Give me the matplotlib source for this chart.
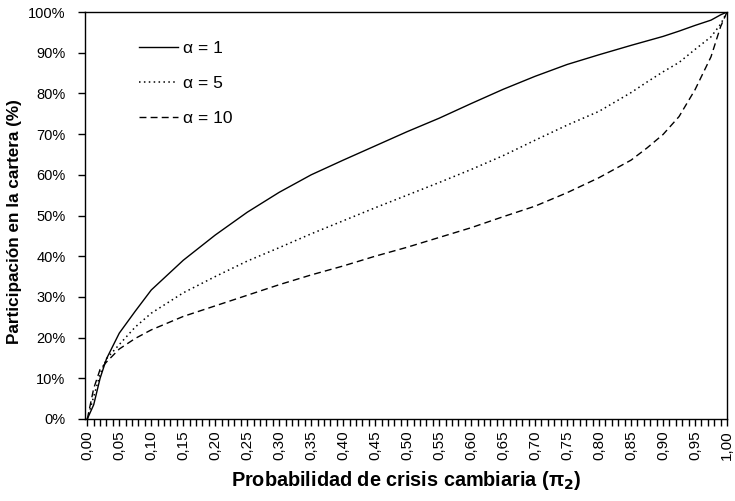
import matplotlib
matplotlib.use("Agg")
import matplotlib.pyplot as plt
from matplotlib.ticker import MultipleLocator, FuncFormatter

# probability of currency crisis (pi_2)
prob = [0.00, 0.01, 0.02, 0.03, 0.05, 0.075, 0.10, 0.15, 0.20, 0.25, 0.30,
        0.35, 0.40, 0.45, 0.50, 0.55, 0.60, 0.65, 0.70, 0.75, 0.80, 0.85,
        0.875, 0.90, 0.925, 0.95, 0.975, 0.99, 1.00]

# portfolio share (%) for each alpha
share_a1 = [0.0, 3.5, 10.0, 14.8, 21.1, 26.5, 31.7, 39.0, 45.2, 50.8, 55.7,
            60.0, 63.6, 67.1, 70.6, 73.9, 77.5, 81.0, 84.2, 87.1, 89.5, 91.8,
            92.9, 94.0, 95.3, 96.7, 98.0, 99.3, 100.0]
share_a5 = [0.0, 5.5, 11.0, 14.8, 18.3, 22.6, 26.0, 31.0, 35.0, 38.8, 42.1,
            45.5, 48.7, 51.9, 55.0, 58.1, 61.3, 64.7, 68.5, 72.2, 75.6, 80.2,
            82.8, 85.3, 87.6, 90.8, 93.9, 97.0, 100.0]
share_a10 = [0.0, 7.5, 12.2, 14.0, 17.2, 19.8, 21.9, 25.2, 27.8, 30.4, 33.0,
             35.4, 37.6, 40.0, 42.2, 44.6, 47.0, 49.7, 52.3, 55.6, 59.3, 63.6,
             66.6, 69.9, 74.3, 80.9, 89.0, 96.4, 100.0]

labels = ["α = 1", "α = 5", "α = 10"]

plt.rcParams["font.family"] = ["Liberation Sans", "DejaVu Sans"]

fig = plt.figure(figsize=(7.35, 5.01), dpi=100)
ax = fig.add_axes([85 / 735, 1 - 419 / 501, 642 / 735, 407 / 501])

ax.plot(prob, share_a1, '-', color='black', linewidth=1.0, label=labels[0])
ax.plot(prob, share_a5, color='black', linewidth=1.1, linestyle=(0, (1, 2.2)),
        label=labels[1])
ax.plot(prob, share_a10, color='black', linewidth=1.0, linestyle=(0, (5, 3)),
        label=labels[2])

ax.set_xlim(-0.0036, 1.0)
ax.set_ylim(0, 100)

ax.xaxis.set_major_locator(MultipleLocator(0.05))
ax.xaxis.set_minor_locator(MultipleLocator(0.01))
ax.xaxis.set_major_formatter(
    FuncFormatter(lambda v, pos: f"{v:.2f}".replace(".", ",")))
ax.yaxis.set_major_locator(MultipleLocator(10))
ax.yaxis.set_major_formatter(FuncFormatter(lambda v, pos: f"{v:.0f}%"))

ax.tick_params(axis='x', which='both', direction='out', length=5, width=1,
               labelsize=11, labelrotation=90, pad=3)
ax.tick_params(axis='y', direction='out', length=5, width=1, labelsize=10.5,
               pad=9)
for spine in ax.spines.values():
    spine.set_linewidth(1.0)

ax.set_xlabel(r"Probabilidad de crisis cambiaria (π$_\mathbf{2}$)",
              fontsize=14.3, fontweight="bold", labelpad=7)
ax.set_ylabel("Participación en la cartera (%)", fontsize=12.3,
              fontweight="bold", va="center")
ax.yaxis.set_label_coords(-(85 - 15) / 642, (419 - 222) / 407)

ax.legend(loc="upper left", bbox_to_anchor=(0.084, 0.93), frameon=False,
          fontsize=12.5, handlelength=2.25, handletextpad=0.3,
          labelspacing=1.15, borderpad=0, borderaxespad=0)

fig.savefig("out.png", dpi=100)
